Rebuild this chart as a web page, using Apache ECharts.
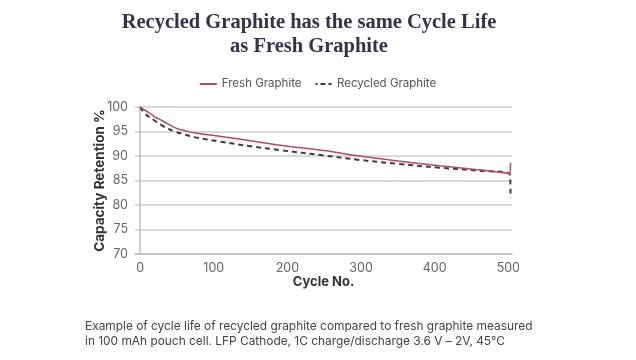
<!DOCTYPE html>
<html>
<head>
<meta charset="utf-8">
<script src="https://cdn.jsdelivr.net/npm/echarts@6/dist/echarts.min.js"></script>
<style>html,body{margin:0;padding:0;background:#fff}#c{width:636px;height:360px}</style>
</head>
<body>
<div id="c"></div>
<script>
const xTicks = [0, 100, 200, 300, 400, 500];
const yTicks = [70, 75, 80, 85, 90, 95, 100];
const freshCycles = [0, 10, 20, 30, 47, 60, 75, 110, 150, 190, 250, 298, 350, 407, 460, 502, 503];
const freshValues = [100, 99.0, 98.0, 97.2, 95.8, 95.2, 94.7, 94.0, 93.1, 92.2, 91.1, 90.0, 89.0, 88.0, 87.2, 86.5, 88.6];
const recCycles = [0, 7, 20, 30, 47, 60, 75, 110, 150, 190, 250, 298, 350, 407, 460, 502, 503];
const recValues = [100, 98.6, 97.2, 96.2, 95.0, 94.4, 93.8, 92.9, 92.0, 91.2, 90.1, 89.2, 88.4, 87.6, 87.0, 86.3, 81.5];

const fresh = freshCycles.map((c, i) => [c, freshValues[i]]);
const rec = recCycles.map((c, i) => [c, recValues[i]]);

const chart = echarts.init(document.getElementById('c'));
chart.setOption({
  animation: false,
  title: {
    text: 'Recycled Graphite has the same Cycle Life\nas Fresh Graphite',
    left: 304, top: 6, textAlign: 'center',
    textStyle: { fontFamily: 'Liberation Serif', fontWeight: 'bold', fontSize: 20.5, color: '#33334a', lineHeight: 24 }
  },
  legend: {
    top: 73, left: 'center',
    itemWidth: 17, itemHeight: 2, itemGap: 14,
    itemStyle: { borderWidth: 0 },
    textStyle: { fontFamily: 'Inter', fontSize: 11.5, color: '#555' },
    data: [
      { name: 'Fresh Graphite', icon: 'rect' },
      { name: 'Recycled Graphite', icon: 'path://M0,0h2v2h-2zM5,0h5v2h-5zM13,0h3v2h-3z' }
    ]
  },
  grid: { left: 135, right: 124, top: 107, bottom: 106 },
  xAxis: {
    type: 'value', min: -7, max: 505,
    name: 'Cycle No.', nameLocation: 'middle', nameGap: 20,
    nameTextStyle: { fontFamily: 'Inter', fontWeight: 'bold', fontSize: 13, color: '#333' },
    axisLine: { show: true, lineStyle: { color: '#bdbdbd', width: 1.5 } },
    axisTick: { show: false },
    splitLine: { show: false },
    axisLabel: { customValues: xTicks, fontFamily: 'Inter', fontSize: 12.5, color: '#666', margin: 8 }
  },
  yAxis: {
    type: 'value', min: 70, max: 100, interval: 5,
    name: 'Capacity Retention %', nameLocation: 'middle', nameGap: 28, nameMoveOverlap: false,
    nameTextStyle: { fontFamily: 'Inter', fontWeight: 'bold', fontSize: 13.5, color: '#333' },
    axisLine: { show: true, lineStyle: { color: '#bdbdbd', width: 1.5 } },
    axisTick: { show: false },
    splitLine: { lineStyle: { color: '#cccccc', width: 1.5 } },
    axisLabel: { customValues: yTicks, fontFamily: 'Inter', fontSize: 12.5, color: '#666', margin: 7 }
  },
  series: [
    {
      name: 'Fresh Graphite', type: 'line', data: fresh, smooth: 0.4,
      symbol: 'none', lineStyle: { color: '#b5486e', width: 1.5 }, itemStyle: { color: '#b5486e' }, z: 3
    },
    {
      name: 'Recycled Graphite', type: 'line', data: rec, smooth: 0.4,
      symbol: 'none', lineStyle: { color: '#3c3c3c', width: 2, type: [5, 4] }, itemStyle: { color: '#3c3c3c' }, z: 2
    }
  ],
  graphic: [
    { type: 'text', left: 85, top: 320, style: { text: 'Example of cycle life of recycled graphite compared to fresh graphite measured', fontFamily: 'Inter', fontSize: 11.9, fill: '#444' } },
    { type: 'text', left: 85, top: 335, style: { text: 'in 100 mAh pouch cell. LFP Cathode, 1C charge/discharge 3.6 V \u2013 2V, 45\u00b0C', fontFamily: 'Inter', fontSize: 11.9, fill: '#444' } }
  ]
});
</script>
</body>
</html>
